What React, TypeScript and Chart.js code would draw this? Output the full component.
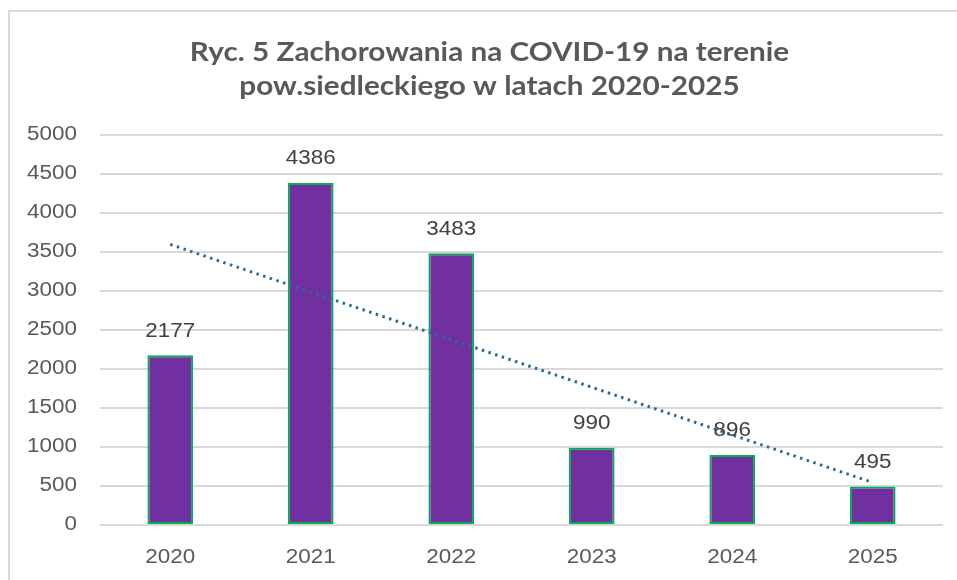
import React, { useEffect, useRef } from "react";
import { Chart, registerables } from "chart.js";

Chart.register(...registerables);

const categories = ["2020", "2021", "2022", "2023", "2024", "2025"];
const cases = [2177, 4386, 3483, 990, 896, 495];
const trend = [3598, 2987, 2377, 1766, 1155, 545];
const yTicks = [0, 500, 1000, 1500, 2000, 2500, 3000, 3500, 4000, 4500, 5000];
const titleLines = [
  "Ryc. 5 Zachorowania na COVID-19 na terenie",
  "pow.siedleckiego w latach 2020-2025",
];

const LABEL_FONT = "19.5px 'Liberation Sans', Arial, sans-serif";
const TITLE_FONT = "bold 27px Lato, sans-serif";
const STRETCH = 1.15;
const TITLE_STRETCH = 1.1;

function drawText(
  ctx: CanvasRenderingContext2D,
  text: string,
  x: number,
  y: number,
  align: CanvasTextAlign,
  baseline: CanvasTextBaseline,
  stretch: number
) {
  ctx.save();
  ctx.translate(x, y);
  ctx.scale(stretch, 1);
  ctx.textAlign = align;
  ctx.textBaseline = baseline;
  ctx.fillText(text, 0, 0);
  ctx.restore();
}

const textPlugin = {
  id: "textPlugin",
  afterDraw(chart: any) {
    const ctx: CanvasRenderingContext2D = chart.ctx;
    const area = chart.chartArea;
    const xs = chart.scales.x;
    const ys = chart.scales.y;

    // title
    ctx.save();
    ctx.font = TITLE_FONT;
    ctx.fillStyle = "#595959";
    const cx = (area.left + area.right) / 2 - 32;
    drawText(ctx, titleLines[0], cx, 61, "center", "alphabetic", TITLE_STRETCH);
    drawText(ctx, titleLines[1], cx, 95, "center", "alphabetic", TITLE_STRETCH);
    ctx.restore();

    // axis labels
    ctx.save();
    ctx.font = LABEL_FONT;
    ctx.fillStyle = "#595959";
    yTicks.forEach((v) => {
      drawText(ctx, String(v), area.left - 23, ys.getPixelForValue(v), "right", "middle", STRETCH);
    });
    categories.forEach((c, i) => {
      drawText(ctx, c, xs.getPixelForValue(i), area.bottom + 33, "center", "middle", STRETCH);
    });
    ctx.restore();

    // data labels
    const meta = chart.getDatasetMeta(1);
    ctx.save();
    ctx.font = LABEL_FONT;
    ctx.fillStyle = "#404040";
    meta.data.forEach((bar: any, i: number) => {
      drawText(ctx, String(cases[i]), bar.x, bar.y - 24, "center", "middle", STRETCH);
    });
    ctx.restore();
  },
};

export default function App() {
  const ref = useRef<HTMLCanvasElement | null>(null);
  useEffect(() => {
    if (!ref.current) return;
    const chart = new Chart(ref.current, {
      type: "bar",
      data: {
        labels: categories,
        datasets: [
          {
            type: "line",
            label: "Trend",
            data: trend,
            borderColor: "#2B6C8C",
            borderWidth: 3,
            borderDash: [2.5, 4.5],
            pointRadius: 0,
            fill: false,
            tension: 0,
            order: 0,
          } as any,
          {
            type: "bar",
            label: "Zachorowania",
            data: cases,
            backgroundColor: "#7030A0",
            borderColor: "#00B050",
            borderWidth: 2,
            borderSkipped: false,
            barPercentage: 0.325,
            categoryPercentage: 1,
            order: 1,
          } as any,
        ],
      },
      plugins: [textPlugin],
      options: {
        responsive: false,
        animation: false,
        layout: { padding: { left: 36, right: 14, top: 135, bottom: 0 } },
        plugins: {
          legend: { display: false },
          tooltip: { enabled: false },
          title: { display: false },
        },
        scales: {
          x: {
            grid: { display: false, drawTicks: false },
            border: { display: false },
            ticks: { display: false },
            afterFit: (scale: any) => {
              scale.height = 55;
            },
          },
          y: {
            min: 0,
            max: 5000,
            afterFit: (scale: any) => {
              scale.width = 64;
            },
            grid: { color: "#D9D9D9", lineWidth: 2, drawTicks: false },
            border: { display: false },
            ticks: { stepSize: 500, display: false },
          },
        },
      },
    });
    return () => chart.destroy();
  }, []);

  return (
    <div style={{ position: "fixed", left: 0, top: 0, width: 957, height: 580, background: "#fff", overflow: "hidden" }}>
      <div
        style={{
          position: "absolute",
          left: 8,
          top: 10,
          right: 0,
          bottom: 0,
          borderLeft: "2px solid #D9D9D9",
          borderTop: "2px solid #D9D9D9",
        }}
      />
      <canvas ref={ref} width={957} height={580} style={{ position: "absolute", left: 0, top: 0, width: 957, height: 580 }} />
    </div>
  );
}
